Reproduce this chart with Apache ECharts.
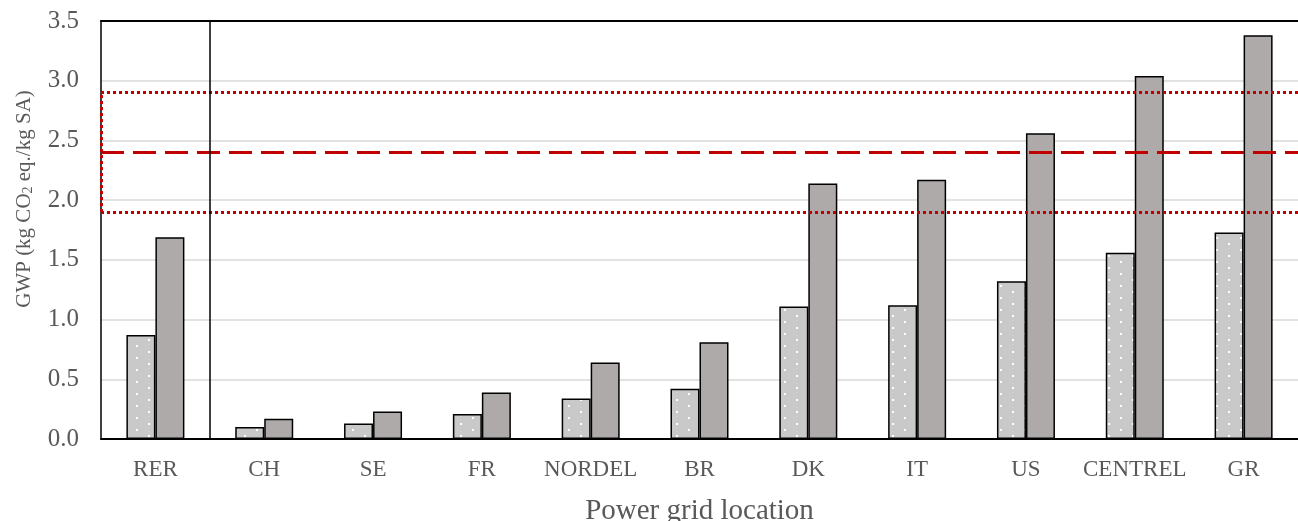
<!DOCTYPE html>
<html>
<head>
<meta charset="utf-8">
<script src="https://cdn.jsdelivr.net/npm/echarts@6/dist/echarts.min.js"></script>
<style>
html,body{margin:0;padding:0;background:#fff;}
#chart{width:1298px;height:521px;}
</style>
</head>
<body>
<div id="chart"></div>
<script>
const categories = ['RER','CH','SE','FR','NORDEL','BR','DK','IT','US','CENTREL','GR'];
const lowValues  = [0.87,0.10,0.13,0.21,0.34,0.42,1.11,1.12,1.32,1.56,1.73];
const highValues = [1.69,0.17,0.23,0.39,0.64,0.81,2.14,2.17,2.56,3.04,3.38];
const refMean = 2.4;
const refLow = 1.9;
const refHigh = 2.9;
const separatorAfter = 1; // divider after the first (regional) category
const yTicks = {min: 0, max: 3.5, interval: 0.5};

function makeDotPattern() {
  const c = document.createElement('canvas');
  c.width = 24; c.height = 12;
  const g = c.getContext('2d');
  g.fillStyle = '#c9c9c9';
  g.fillRect(0, 0, 24, 12);
  g.fillStyle = '#ffffff';
  g.fillRect(4, 3, 2, 2);
  g.fillRect(16, 9, 2, 2);
  return c;
}

const FONT = 'Liberation Serif';
const RED = '#c00000';
const chart = echarts.init(document.getElementById('chart'), null, {renderer: 'canvas'});
chart.setOption({
  animation: false,
  backgroundColor: '#ffffff',
  grid: {left: 101, right: 0, top: 21, bottom: 82, outerBoundsMode: 'none', containLabel: false},
  xAxis: [{
    type: 'category',
    data: categories,
    axisLine: {lineStyle: {color: '#000', width: 2}},
    axisTick: {show: false},
    axisLabel: {color: '#595959', fontFamily: FONT, fontSize: 23, margin: 19, interval: 0},
    splitLine: {show: false},
    name: 'Power grid location',
    nameLocation: 'middle',
    nameGap: 58,
    nameTextStyle: {color: '#595959', fontFamily: FONT, fontSize: 29}
  }, {
    type: 'value',
    position: 'top',
    min: 0, max: categories.length,
    axisLine: {show: true, onZero: false, lineStyle: {color: '#000', width: 2}},
    axisTick: {show: false},
    axisLabel: {show: false},
    splitLine: {show: false}
  }],
  yAxis: {
    type: 'value',
    min: yTicks.min, max: yTicks.max, interval: yTicks.interval,
    axisLine: {show: true, lineStyle: {color: '#000', width: 1.5}},
    axisTick: {show: false},
    axisLabel: {color: '#595959', fontFamily: FONT, fontSize: 25, margin: 22,
      formatter: function (v) { return v.toFixed(1); }},
    splitLine: {lineStyle: {color: '#d9d9d9', width: 1.5}},
    name: 'GWP (kg CO{sub|2} eq./kg SA)',
    nameLocation: 'middle',
    nameRotate: 90,
    nameGap: 66,
    nameTextStyle: {color: '#595959', fontFamily: FONT, fontSize: 21, padding: [0, 0, 0, 62],
      rich: {sub: {fontSize: 14, fontFamily: FONT, color: '#595959', verticalAlign: 'bottom', padding: [8, 0, 0, 0]}}}
  },
  series: [
    {
      name: 'Low',
      type: 'bar',
      data: lowValues,
      barWidth: 29,
      barGap: '0%',
      itemStyle: {color: {image: makeDotPattern(), repeat: 'repeat'}, borderColor: '#000', borderWidth: 1.5},
      markLine: {
        silent: true,
        symbol: 'none',
        label: {show: false},
        lineStyle: {color: RED, width: 3, type: [3, 3]},
        data: [{yAxis: refLow}, {yAxis: refHigh}]
      }
    },
    {
      name: 'High',
      type: 'bar',
      data: highValues,
      barWidth: 29,
      barGap: '0%',
      itemStyle: {color: '#aeaaaa', borderColor: '#000', borderWidth: 1.5},
      markLine: {
        silent: true,
        symbol: 'none',
        label: {show: false},
        lineStyle: {color: RED, width: 3, type: [23, 9]},
        data: [{yAxis: refMean}]
      }
    },
    {
      name: 'separator',
      type: 'line',
      xAxisIndex: 1,
      data: [],
      markLine: {
        silent: true,
        symbol: 'none',
        label: {show: false},
        data: [
          {xAxis: separatorAfter, lineStyle: {color: '#000', width: 1.5, type: 'solid'}},
          [{coord: [0, refLow], lineStyle: {color: RED, width: 3, type: [3, 3]}}, {coord: [0, refHigh]}]
        ]
      }
    }
  ]
});
</script>
</body>
</html>
